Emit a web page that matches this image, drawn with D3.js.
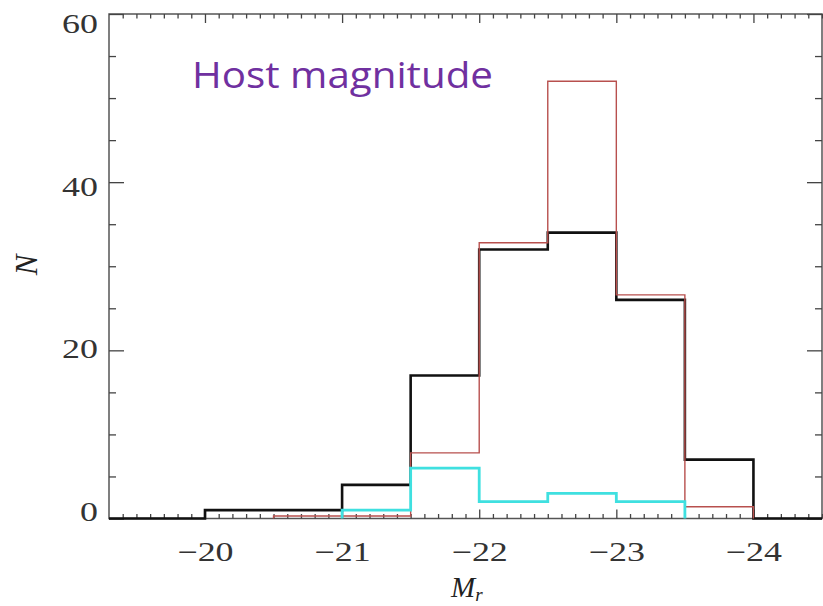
<!DOCTYPE html>
<html><head><meta charset="utf-8">
<script src="https://cdn.jsdelivr.net/npm/d3@7"></script>
<style>body{margin:0;background:#fff;overflow:hidden}</style></head>
<body>
<svg id="c" width="823" height="606"></svg>
<script>
// ---- data ----
const binLeftEdges = [-19.0,-19.5,-20.0,-20.5,-21.0,-21.5,-22.0,-22.5,-23.0,-23.5,-24.0,-24.5];
const binWidth = 0.5;
const countsBlack = [0,0,1,1,4,17,32,34,26,7,0,0];
const countsRed   = [0,0,0,0.3,0.3,7.8,32.8,52,26.6,1.4,0,0];
const countsCyan  = [0,0,0,0,1,6,2,3,2,0,0,0];
const xMajorTicks = [-20,-21,-22,-23,-24];
const yMajorTicks = [0,20,40,60];
const yMinorTicks = [5,10,15,25,30,35,45,50,55];
const xLabel = "M";
const xLabelSub = "r";
const yLabel = "N";
const title = "Host magnitude";

// ---- layout ----
const W = 823, H = 606;
const L = 109, R = 822, T = 14, B = 518.5;
const svg = d3.select("#c");
const x = d3.scaleLinear().domain([-19.3, -24.5]).range([L, R]);
const y = d3.scaleLinear().domain([0, 60]).range([B, T]);
const xMinorTicks = d3.range(194, 246).map(i => -i / 10).filter(v => Math.abs(v - Math.round(v)) > 1e-6);

svg.append("defs").append("clipPath").attr("id","clip")
  .append("rect").attr("x", L).attr("y", 0).attr("width", R - L).attr("height", B + 4);

// frame
svg.append("rect").attr("x", L).attr("y", T).attr("width", R - L).attr("height", B - T)
  .attr("fill","none").attr("stroke","#555").attr("stroke-width",1.5);

const tickStyle = g => { g.select(".domain").remove(); g.selectAll("line").attr("stroke","#444").attr("stroke-width",1.3); };

// bottom
svg.append("g").attr("transform",`translate(0,${B})`)
  .call(d3.axisBottom(x).tickValues(xMinorTicks).tickSize(-4.5).tickFormat(""))
  .call(tickStyle);
const xb = svg.append("g").attr("transform",`translate(0,${B})`)
  .call(d3.axisBottom(x).tickValues(xMajorTicks).tickSize(-9).tickPadding(23).tickFormat(d => "\u2212" + Math.abs(d)))
  .call(tickStyle);
// top
svg.append("g").attr("transform",`translate(0,${T})`)
  .call(d3.axisTop(x).tickValues(xMinorTicks).tickSize(-4.5).tickFormat("")).call(tickStyle);
svg.append("g").attr("transform",`translate(0,${T})`)
  .call(d3.axisTop(x).tickValues(xMajorTicks).tickSize(-9).tickFormat("")).call(tickStyle);
// left
svg.append("g").attr("transform",`translate(${L},0)`)
  .call(d3.axisLeft(y).tickValues(yMinorTicks).tickSize(-7).tickFormat("")).call(tickStyle);
const yl = svg.append("g").attr("transform",`translate(${L},0)`)
  .call(d3.axisLeft(y).tickValues(yMajorTicks).tickSize(-15).tickPadding(11))
  .call(tickStyle);
// right
svg.append("g").attr("transform",`translate(${R},0)`)
  .call(d3.axisRight(y).tickValues(yMinorTicks).tickSize(-7).tickFormat("")).call(tickStyle);
svg.append("g").attr("transform",`translate(${R},0)`)
  .call(d3.axisRight(y).tickValues(yMajorTicks).tickSize(-15).tickFormat("")).call(tickStyle);

// tick label fonts (stretched serif look)
[xb, yl].forEach(g => g.selectAll("text")
  .attr("font-family","'Liberation Serif', serif").attr("font-size",27).attr("fill","#333"));
yl.selectAll("text").attr("dy", d => (0.32 + (-6.5 + d * 0.27) / 27) + "em");
xb.selectAll("text").attr("dy","0.71em");
[xb, yl].forEach(g => g.selectAll("text").each(function(){
  const w = this.getComputedTextLength();
  d3.select(this).attr("textLength", w * 1.33).attr("lengthAdjust","spacingAndGlyphs");
}));

// histograms
function stepPoints(counts, trim) {
  let i0 = 0, i1 = counts.length - 1;
  if (trim) {
    while (i0 < counts.length && counts[i0] === 0) i0++;
    while (i1 >= 0 && counts[i1] === 0) i1--;
  }
  const pts = [];
  if (trim) pts.push([binLeftEdges[i0], 0]);
  for (let i = i0; i <= i1; i++) {
    pts.push([binLeftEdges[i], counts[i]]);
    pts.push([binLeftEdges[i] - binWidth, counts[i]]);
  }
  if (trim) pts.push([binLeftEdges[i1] - binWidth, 0]);
  return pts;
}
const line = d3.line().x(d => x(d[0])).y(d => y(d[1]));
const hg = svg.append("g").attr("clip-path","url(#clip)");
hg.append("path").attr("d", line(stepPoints(countsBlack, false)))
  .attr("fill","none").attr("stroke","#111").attr("stroke-width",2.6);
hg.append("path").attr("d", line(stepPoints(countsRed, true)))
  .attr("fill","none").attr("stroke","#b8504e").attr("stroke-width",1.4);
hg.append("path").attr("d", line(stepPoints(countsCyan, true)))
  .attr("fill","none").attr("stroke","#3fe0e0").attr("stroke-width",2.8);

// axis titles
const xt = svg.append("text").attr("x", 451).attr("y", 597)
  .attr("font-family","'Liberation Serif', serif").attr("font-style","italic")
  .attr("font-size",29).attr("fill","#222");
xt.append("tspan").text(xLabel);
xt.append("tspan").attr("font-size",19).attr("dy",4).text(xLabelSub);

svg.append("text").attr("transform","translate(37,265) rotate(-90)")
  .attr("text-anchor","middle")
  .attr("font-family","'Liberation Serif', serif").attr("font-style","italic")
  .attr("font-size",31).attr("fill","#222").text(yLabel);

// title
svg.append("text").attr("x", 192).attr("y", 88)
  .attr("font-family","'Open Sans', sans-serif").attr("font-size",37)
  .attr("textLength", 301).attr("lengthAdjust","spacingAndGlyphs")
  .attr("fill","#7030A0").text(title);
</script>
</body></html>
